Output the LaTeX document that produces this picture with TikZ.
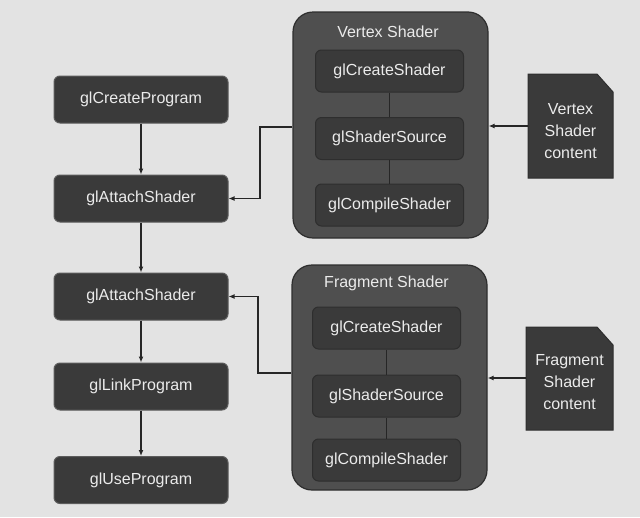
\documentclass[tikz,border=0pt]{standalone}
\usepackage{fontspec}
\setmainfont{Liberation Sans}
\usetikzlibrary{arrows.meta,positioning,calc}
\definecolor{paper}{HTML}{E3E3E3}
\definecolor{boxfill}{HTML}{3A3A3A}
\definecolor{boxedge}{HTML}{5C5C5C}
\definecolor{outerfill}{HTML}{4F4F4F}
\definecolor{outeredge}{HTML}{2E2E2E}
\definecolor{linec}{HTML}{262626}
\definecolor{txt}{HTML}{EBEBEB}
\tikzset{
  fn/.style={draw=boxedge, line width=1pt, fill=boxfill, rounded corners=6pt,
    text=txt, font=\fontsize{16}{20}\selectfont, inner sep=0pt},
  leftbox/.style={fn, minimum width=174pt, minimum height=47pt},
  innerbox/.style={fn, minimum width=148pt, minimum height=42pt, draw=outeredge},
  outerbox/.style={draw=outeredge, line width=1.2pt, fill=outerfill, rounded corners=20pt,
    minimum width=195pt, minimum height=226pt, inner sep=0pt},
  outerlabel/.style={text=txt, font=\fontsize{16}{20}\selectfont, inner sep=0pt},
  doclabel/.style={text=txt, font=\fontsize{16}{22}\selectfont, align=center, inner sep=0pt},
  docshape/.style={fill=boxfill, draw=outeredge, line width=1pt},
  arr/.style={draw=linec, line width=1.6pt, -{Latex[length=6pt,width=5pt]}},
  link/.style={draw=linec, line width=1.6pt},
}
\begin{document}
\begin{tikzpicture}[x=1pt,y=-1pt]
\fill[paper] (0,0) rectangle (640,517);
\useasboundingbox (0,0) rectangle (640,517);

% left column
\node[leftbox] (cp) at (141,99.5) {glCreateProgram};
\node[leftbox] (as1) at (141,198.5) {glAttachShader};
\node[leftbox] (as2) at (141,296.5) {glAttachShader};
\node[leftbox] (lp) at (141,386.5) {glLinkProgram};
\node[leftbox] (up) at (141,480) {glUseProgram};

% vertex shader group
\node[outerbox] (vbox) at (390.5,125) {};
\node[outerlabel] (vlab) at (388,32) {Vertex Shader};
\node[innerbox] (vcs) at (389.5,71) {glCreateShader};
\node[innerbox] (vss) at (389.5,138.5) {glShaderSource};
\node[innerbox] (vcc) at (389.5,205) {glCompileShader};

% fragment shader group
\node[outerbox, minimum height=225pt] (fbox) at (389.5,377.5) {};
\node[outerlabel] (flab) at (386.5,283) {Fragment Shader};
\node[innerbox] (fcs) at (386.5,328) {glCreateShader};
\node[innerbox] (fss) at (386.5,396) {glShaderSource};
\node[innerbox] (fcc) at (386.5,460) {glCompileShader};

% documents
\draw[docshape] (528,74) -- (597,74) -- (613,92) -- (613,178) -- (528,178) -- cycle;
\node[doclabel] (vdoc) at (570.5,131) {Vertex\\Shader\\content};
\draw[docshape] (526,327) -- (597,327) -- (613,345) -- (613,430) -- (526,430) -- cycle;
\node[doclabel] (fdoc) at (569.5,382.5) {Fragment\\Shader\\content};
\coordinate (vdocw) at (528,126);
\coordinate (fdocw) at (526,378);

% connectors left column
\draw[arr] (cp.south) -- (as1.north);
\draw[arr] (as1.south) -- (as2.north);
\draw[arr] (as2.south) -- (lp.north);
\draw[arr] (lp.south) -- (up.north);

% inner links
\draw[link] (vcs.south) -- (vss.north);
\draw[link] (vss.south) -- (vcc.north);
\draw[link] (fcs.south) -- (fss.north);
\draw[link] (fss.south) -- (fcc.north);

% documents to shader boxes
\draw[arr] (vdocw) -- (vdocw -| vbox.east);
\draw[arr] (fdocw) -- (fdocw -| fbox.east);

% shader boxes to attach
\coordinate (vj) at (260,127);
\draw[arr] (vbox.west |- vj) -- (vj) |- (as1.east);
\coordinate (fj) at (258,373);
\draw[arr] (fbox.west |- fj) -- (fj) |- (as2.east);
\end{tikzpicture}
\end{document}
